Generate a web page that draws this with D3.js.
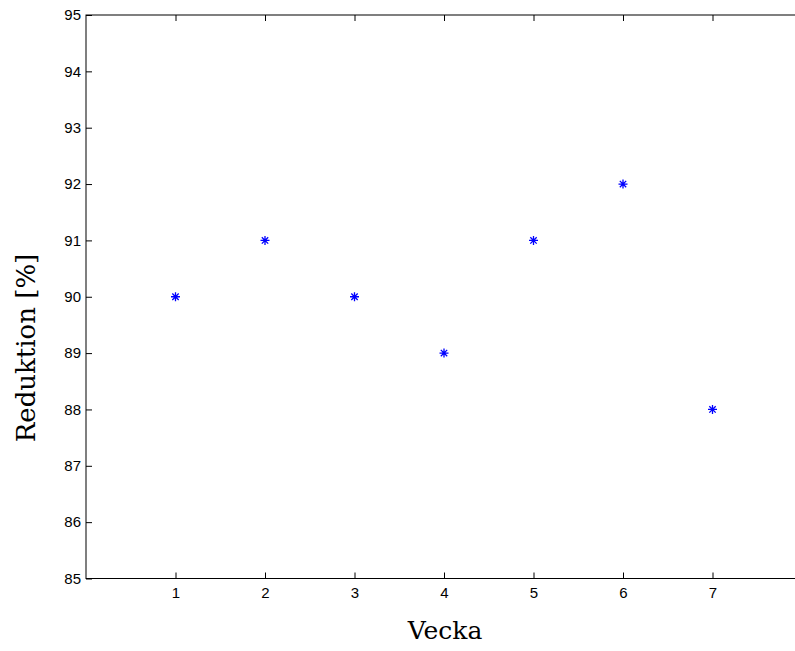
<!DOCTYPE html>
<html>
<head>
<meta charset="utf-8">
<script src="https://cdn.jsdelivr.net/npm/d3@7"></script>
<style>
  body { margin: 0; background: #fff; }
  svg { display: block; }
  .tick text { font-family: "Liberation Sans", Arial, sans-serif; font-size: 15px; fill: #000; }
</style>
</head>
<body>
<svg id="chart" width="795" height="651"></svg>
<script>
// data
let weeks = [1, 2, 3, 4, 5, 6, 7];
let reduction = [90, 91, 90, 89, 91, 92, 88];
let xTicks = [1, 2, 3, 4, 5, 6, 7];
let yTicks = [85, 86, 87, 88, 89, 90, 91, 92, 93, 94, 95];

let svg = d3.select('#chart');
let width = +svg.attr('width');
let height = +svg.attr('height');
let pad = {t: 15, l: 86, b: 72};

// x axis runs 0..8, right part falls off the window as in the original
let x = d3.scaleLinear().domain([0, 8]).range([pad.l, pad.l + 8 * 89.5]);
let y = d3.scaleLinear().domain([85, 95]).range([height - pad.b - 0.5, pad.t]);

let x0 = x(0), x1 = x(8), y0 = y(85), y1 = y(95);

// frame
svg.append('rect')
    .attr('x', x0).attr('y', y1)
    .attr('width', x1 - x0).attr('height', y0 - y1)
    .attr('fill', 'none').attr('stroke', '#000').attr('stroke-width', 1);

let tickLen = 6;

// bottom axis: inward ticks
let xAxis = d3.axisBottom(x).tickValues(xTicks).tickSize(-tickLen).tickPadding(9).tickFormat(d3.format('d'));
let gx = svg.append('g').attr('transform', 'translate(0,' + y0 + ')').call(xAxis);
gx.select('.domain').remove();

// top ticks, no labels
let xTop = d3.axisTop(x).tickValues(xTicks).tickSize(-tickLen).tickFormat('');
let gxt = svg.append('g').attr('transform', 'translate(0,' + y1 + ')').call(xTop);
gxt.select('.domain').remove();

// left axis
let yAxis = d3.axisLeft(y).tickValues(yTicks).tickSize(-tickLen).tickPadding(5).tickFormat(d3.format('d'));
let gy = svg.append('g').attr('transform', 'translate(' + x0 + ',0)').call(yAxis);
gy.select('.domain').remove();

svg.selectAll('.tick line').attr('stroke', '#000');

// asterisk markers
let r = 4.5;
let star = 'M' + (-r) + ',0L' + r + ',0'
    + 'M0,' + (-r) + 'L0,' + r
    + 'M' + (-r * 0.71) + ',' + (-r * 0.71) + 'L' + (r * 0.71) + ',' + (r * 0.71)
    + 'M' + (-r * 0.71) + ',' + (r * 0.71) + 'L' + (r * 0.71) + ',' + (-r * 0.71);

svg.append('g').selectAll('path')
    .data(weeks)
    .enter()
    .append('path')
    .attr('transform', (d, i) => 'translate(' + x(d) + ',' + y(reduction[i]) + ')')
    .attr('d', star)
    .attr('fill', 'none')
    .attr('stroke', '#0000ff')
    .attr('stroke-width', 1.3);

// axis labels
svg.append('text')
    .attr('x', 445).attr('y', 639)
    .attr('text-anchor', 'middle')
    .attr('font-family', 'DejaVu Serif, Liberation Serif, serif')
    .attr('font-size', 25)
    .text('Vecka');

svg.append('text')
    .attr('transform', 'translate(35,348) rotate(-90)')
    .attr('text-anchor', 'middle')
    .attr('font-family', 'DejaVu Serif, Liberation Serif, serif')
    .attr('font-size', 26)
    .text('Reduktion [%]');
</script>
</body>
</html>
